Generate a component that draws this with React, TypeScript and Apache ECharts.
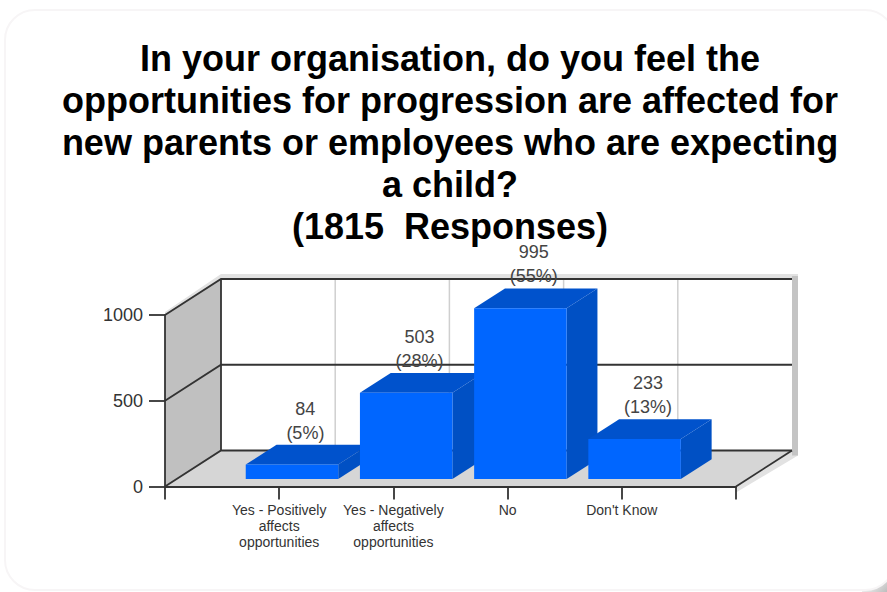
import React, { useEffect, useRef } from "react";
import * as echarts from "echarts";

const titleText =
  "In your organisation, do you feel the\nopportunities for progression are affected for\nnew parents or employees who are expecting\na child?\n(1815  Responses)";
const categories = [
  "",
  "Yes - Positively\naffects\nopportunities",
  "Yes - Negatively\naffects\nopportunities",
  "No",
  "Don't Know",
  "",
];
const responses = [84, 503, 995, 233];
const percents = ["(5%)", "(28%)", "(55%)", "(13%)"];
const yTicks = [0, 500, 1000];

const FONT = "'Liberation Sans', Arial, sans-serif";
const WALL_DX = 56;
const WALL_DY = -36;
const BAR_START = 0.21;
const BAR_DEPTH = 0.55;
const LINE = "#333333";
const LINE_W = 1.8;

const renderWalls = (_p: any, api: any) => {
  const yMax = yTicks[yTicks.length - 1];
  const [x0, y0] = api.coord([0, 0]);
  const [x1] = api.coord([categories.length - 1, 0]);
  const y1 = api.coord([0, yMax])[1];
  const bx0 = x0 + WALL_DX;
  const bx1 = x1 + WALL_DX;
  const by = (y: number) => y + WALL_DY;
  const children: any[] = [
    {
      type: "polygon",
      shape: {
        points: [
          [x0, y1 - 3],
          [bx0, by(y1) - 5],
          [bx1 + 6, by(y1) - 5],
          [bx1 + 6, by(y0) + 5],
          [x1, y0 + 6],
          [x1, y0],
          [bx1, by(y0)],
          [bx1, by(y1)],
          [bx0, by(y1)],
          [x0, y1],
        ],
      },
      style: { fill: "#e2e2e2" },
    },
    {
      type: "rect",
      shape: { x: bx1, y: by(y1) - 3, width: 6, height: y0 - y1 + 8 },
      style: { fill: "#c4c4c4" },
    },
    {
      type: "rect",
      shape: { x: bx0, y: by(y1), width: bx1 - bx0, height: y0 - y1 },
      style: { fill: "#ffffff" },
    },
    {
      type: "polygon",
      shape: { points: [[x0, y0], [x0, y1], [bx0, by(y1)], [bx0, by(y0)]] },
      style: { fill: "#c0c0c0" },
    },
    {
      type: "polygon",
      shape: { points: [[x0, y0], [x1, y0], [bx1, by(y0)], [bx0, by(y0)]] },
      style: { fill: "#d6d6d6" },
    },
  ];
  categories.forEach((_c, i) => {
    if (i === 0 || i === categories.length - 1) return;
    const x = api.coord([i, 0])[0] + WALL_DX;
    children.push({
      type: "line",
      shape: { x1: x, y1: by(y1), x2: x, y2: by(y0) },
      style: { stroke: "#cfcfcf", lineWidth: 1.5 },
    });
  });
  yTicks.forEach((t) => {
    const y = api.coord([0, t])[1];
    children.push({
      type: "polyline",
      shape: { points: [[x0, y], [bx0, by(y)], [bx1, by(y)]] },
      style: { stroke: LINE, lineWidth: LINE_W, fill: "none" },
    });
  });
  children.push({
    type: "line",
    shape: { x1: bx0, y1: by(y1), x2: bx0, y2: by(y0) },
    style: { stroke: LINE, lineWidth: LINE_W },
  });
  children.push({
    type: "line",
    shape: { x1: x1, y1: y0, x2: bx1, y2: by(y0) },
    style: { stroke: LINE, lineWidth: LINE_W },
  });
  return { type: "group", children };
};

const renderBar = (_p: any, api: any) => {
  const idx = api.value(0);
  const val = api.value(1);
  const base = api.coord([idx, 0]);
  const top = api.coord([idx, val]);
  const band = api.coord([idx + 1, 0])[0] - base[0];
  const w = band * 0.81;
  const l = base[0] - band * 0.293;
  const r = l + w;
  const sy = WALL_DY * BAR_START;
  const dx = WALL_DX * BAR_DEPTH;
  const dy = WALL_DY * BAR_DEPTH;
  const t = top[1] + sy;
  const b = base[1] + sy;
  return {
    type: "group",
    children: [
      {
        type: "polygon",
        shape: { points: [[r, t], [r + dx, t + dy], [r + dx, b + dy], [r, b]] },
        style: { fill: "#0050c4" },
      },
      {
        type: "polygon",
        shape: { points: [[l, t], [l + dx, t + dy], [r + dx, t + dy], [r, t]] },
        style: { fill: "#0052cc" },
      },
      {
        type: "rect",
        shape: { x: l, y: t, width: w, height: b - t },
        style: { fill: "#0066ff" },
      },
    ],
  };
};

const renderLabel = (_p: any, api: any) => {
  const idx = api.value(0);
  const val = api.value(1);
  const base = api.coord([idx, 0]);
  const top = api.coord([idx, val]);
  const band = api.coord([idx + 1, 0])[0] - base[0];
  const left = base[0] - band * 0.293;
  const cx = left + (band * 0.81 + WALL_DX * BAR_DEPTH) / 2 - 2;
  const backTop = top[1] + WALL_DY * (BAR_START + BAR_DEPTH);
  return {
    type: "text",
    style: {
      x: cx,
      y: backTop,
      text: `${val}\n${percents[idx - 1]}`,
      fill: "#444444",
      font: `18px ${FONT}`,
      lineHeight: 24,
      align: "center",
      verticalAlign: "bottom",
    },
  };
};

export default function App() {
  const ref = useRef<HTMLDivElement>(null);
  useEffect(() => {
    document.body.style.margin = "0";
    const chart = echarts.init(ref.current!, undefined, { renderer: "svg" });
    chart.setOption({
      animation: false,
      backgroundColor: "#ffffff",
      title: {
        text: titleText,
        left: 445,
        top: 33,
        textAlign: "center",
        textStyle: {
          fontFamily: FONT,
          fontWeight: "bold",
          fontSize: 36,
          lineHeight: 41.8,
          color: "#000000",
        },
      },
      graphic: [
        {
          type: "rect",
          z: -3,
          shape: { x: 862, y: 567, width: 25, height: 25 },
          style: {
            fill: {
              type: "linear",
              x: 0.3,
              y: 0.3,
              x2: 1,
              y2: 1,
              colorStops: [
                { offset: 0, color: "#ffffff" },
                { offset: 1, color: "#bdbdbd" },
              ],
            },
          },
        },
        {
          type: "rect",
          z: -2,
          shape: { x: 5, y: 10, width: 890, height: 580, r: 30 },
          style: { fill: "#ffffff", stroke: "#f7f5f6", lineWidth: 2 },
        },
      ],
      grid: { left: 165, right: 151, top: 315, bottom: 105.5, containLabel: false },
      xAxis: {
        type: "category",
        data: categories,
        boundaryGap: false,
        z: 5,
        axisLine: { lineStyle: { color: LINE, width: LINE_W } },
        axisTick: { length: 13, lineStyle: { color: LINE, width: LINE_W } },
        axisLabel: {
          interval: 0,
          margin: 15,
          fontFamily: FONT,
          fontSize: 14,
          lineHeight: 16,
          color: "#333333",
        },
        splitLine: { show: false },
      },
      yAxis: {
        type: "value",
        min: 0,
        max: 1000,
        interval: 500,
        z: 5,
        axisLine: { show: true, lineStyle: { color: LINE, width: LINE_W } },
        axisTick: { show: true, length: 16, lineStyle: { color: LINE, width: LINE_W } },
        axisLabel: {
          margin: 22,
          fontFamily: FONT,
          fontSize: 18,
          color: "#333333",
          formatter: (v: number) => String(v),
        },
        splitLine: { show: false },
      },
      series: [
        {
          type: "custom",
          name: "walls",
          z: 1,
          silent: true,
          clip: false,
          renderItem: renderWalls,
          data: [[0, 0]],
        },
        {
          type: "custom",
          name: "Response labels",
          z: 2,
          clip: false,
          renderItem: renderLabel,
          encode: { x: 0, y: 1 },
          data: responses.map((v, i) => [i + 1, v]),
        },
        {
          type: "custom",
          name: "Responses",
          z: 3,
          clip: false,
          renderItem: renderBar,
          encode: { x: 0, y: 1 },
          data: responses.map((v, i) => [i + 1, v]),
        },
      ],
    });
    return () => chart.dispose();
  }, []);
  return <div ref={ref} style={{ width: 887, height: 592 }} />;
}
